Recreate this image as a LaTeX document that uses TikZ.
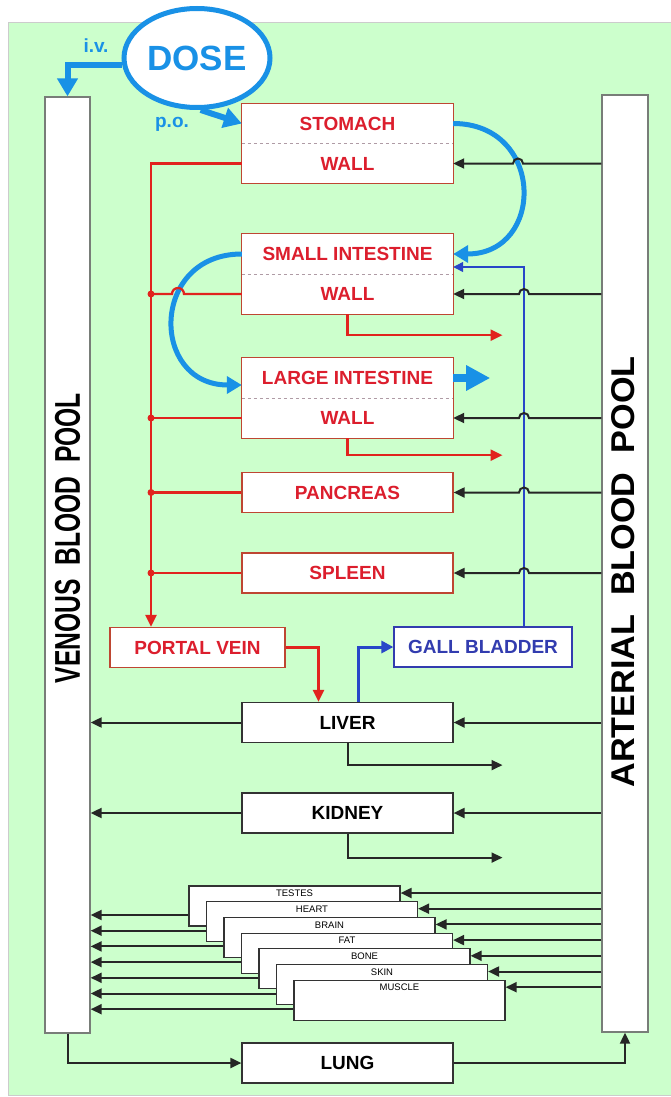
\documentclass[tikz,border=0pt]{standalone}
\usepackage{fontspec}
\setmainfont{Liberation Sans}
\usepackage{graphicx}
\usetikzlibrary{shapes.geometric, arrows.meta, calc}

\definecolor{bggreen}{RGB}{204,255,204}
\definecolor{boxred}{RGB}{190,70,50}
\definecolor{textred}{RGB}{220,30,45}
\definecolor{linered}{RGB}{225,35,30}
\definecolor{doseblue}{RGB}{25,145,230}
\definecolor{gbblue}{RGB}{50,60,175}
\definecolor{bileblue}{RGB}{40,70,200}
\definecolor{sepgray}{RGB}{175,155,165}
\definecolor{poolgray}{RGB}{120,125,120}

\begin{document}
\begin{tikzpicture}[x=1pt, y=-1pt,
    pool/.style={draw=poolgray, line width=1.3pt, fill=white, minimum width=45pt, minimum height=936pt, inner sep=0pt},
    poollbl/.style={rotate=90, inner sep=0pt, font=\bfseries},
    organ/.style={fill=white, minimum width=211pt, minimum height=40pt, inner sep=0pt, font=\fontsize{19}{22}\selectfont\bfseries},
    half/.style={organ, text=textred},
    redbox/.style={organ, draw=boxred, line width=1.2pt, text=textred},
    blackbox/.style={organ, draw=black!80, line width=1.2pt},
    tissue/.style={fill=white, draw=black!80, line width=1.2pt, minimum width=211pt, minimum height=40pt, inner sep=0pt},
    tissuelbl/.style={inner sep=0pt, font=\fontsize{9.5}{10}\selectfont},
    sepline/.style={draw=sepgray, dashed, line width=0.9pt},
    art/.style={draw=black!85, line width=2pt, -{Triangle[length=11pt,width=10pt]}},
    redline/.style={draw=linered, line width=2.3pt},
    redtip/.style={-{Triangle[length=12pt,width=11pt]}},
    dose/.style={ellipse, draw=doseblue, line width=5pt, fill=white, minimum width=146pt, minimum height=99pt, inner sep=0pt, text=doseblue, font=\fontsize{35}{40}\selectfont\bfseries},
    doselbl/.style={inner sep=0pt, text=doseblue, font=\fontsize{19}{22}\selectfont\bfseries},
    dosearrow/.style={draw=doseblue, line width=6pt, -{Triangle[length=18pt,width=20pt]}},
    gut/.style={draw=doseblue, line width=5pt, -{Triangle[length=15pt,width=17pt]}}
]
\useasboundingbox (0,0) rectangle (671,1097);

% ---- background ----
\fill[bggreen, draw=gray!40] (8,22) rectangle (673,1095);

% ---- blood pools ----
\node[pool] (venous) at (67.5,565) {};
\node[pool, minimum width=46pt, minimum height=937pt] (arterial) at (625,563.5) {};
\node[poollbl] (venlbl) at (67.5,538) {\resizebox{290pt}{25pt}{VENOUS\ \ BLOOD\ \ POOL}};
\node[poollbl] (artlbl) at (623.5,572) {\resizebox{431pt}{23pt}{ARTERIAL\ \ BLOOD\ \ POOL}};

% ---- gut compartments ----
\node[half] (stom) at (347.5,123.5) {STOMACH};
\node[half] (stwall) at (347.5,163.5) {WALL};
\node[half] (si) at (347.5,254) {SMALL INTESTINE};
\node[half] (siw) at (347.5,294) {WALL};
\node[half] (li) at (347.5,378) {LARGE INTESTINE};
\node[half] (liw) at (347.5,418) {WALL};
\foreach \a/\b in {stom/stwall, si/siw, li/liw} {
    \draw[boxred, line width=1.2pt] (\a.north west) rectangle (\b.south east);
    \draw[sepline] (\a.south west) -- (\a.south east);
}
\node[redbox] (pan) at (347.5,492.5) {PANCREAS};
\node[redbox] (spl) at (347.5,573) {SPLEEN};
\node[redbox, minimum width=175pt] (pv) at (197.5,647.5) {PORTAL VEIN};
\node[redbox, minimum width=178pt, draw=gbblue, text=gbblue] (gb) at (483,647) {GALL BLADDER};

% ---- other organs ----
\node[blackbox] (liver) at (347.5,722.5) {LIVER};
\node[blackbox] (kidney) at (347.5,813) {KIDNEY};
\node[blackbox] (lung) at (347.5,1063) {LUNG};

\coordinate (trunk) at (151,0);
\coordinate (bile) at ($(gb.north)+(41,0)$);
\coordinate (guthop) at (518,0);
\coordinate (loophop) at (178,0);

% ---- lumen transit ----
\draw[gut] (stom.east) .. controls ($(stom.east)+(92,0)$) and ($(si.east)+(92,0)$) .. (si.east);
\draw[gut] (si.west) .. controls ($(si.west)+(-92,0)$) and ($(li.west)+(-92,7)$) .. ($(li.west)+(0,7)$);
\draw[dosearrow, line width=8pt, -{Triangle[length=24pt,width=24pt]}] (li.east) -- ++(37,0);

% ---- portal drainage ----
\draw[redline, redtip] (stwall.west) -| (pv.north -| trunk);
\draw[redline] (siw.west) -- ($(loophop |- siw.west)+(6,0)$) arc[start angle=0, end angle=-180, radius=6] -- (trunk |- siw.west);
\fill[linered] (trunk |- siw.west) circle[radius=3.5];
\foreach \b in {liw, pan, spl} {
    \draw[redline] (\b.west) -- (trunk |- \b.west);
    \fill[linered] (trunk |- \b.west) circle[radius=3.5];
}
\draw[redline, redtip] (pv.east) -| ($(liver.north)+(-29,0)$);
\draw[redline, redtip] (siw.south) |- ++(155,21);
\draw[redline, redtip] (liw.south) |- ++(155,17);

% ---- bile ----
\draw[draw=bileblue, line width=3pt, -{Triangle[length=12pt,width=12pt]}] ($(liver.north)+(11,0)$) |- (gb.west);
\draw[draw=bileblue, line width=1.2pt, -{Triangle[length=10pt,width=10pt]}] (bile) |- ($(si.east)+(0,13)$);

% ---- arterial supply ----
\draw[art] (arterial.west |- stwall.east) -- ($(guthop |- stwall.east)+(5,0)$) arc[start angle=0, end angle=-180, radius=5] -- (stwall.east);
\foreach \b in {siw, liw, pan, spl}
    \draw[art] (arterial.west |- \b.east) -- ($(bile |- \b.east)+(5,0)$) arc[start angle=0, end angle=-180, radius=5] -- (\b.east);
\foreach \b in {liver, kidney} {
    \draw[art] (arterial.west |- \b.east) -- (\b.east);
    \draw[art] (\b.west) -- (venous.east |- \b.west);
}
\draw[art] (liver.south) |- ++(155,22);
\draw[art] (kidney.south) |- ++(155,24);

% ---- remaining tissues ----
\foreach \nm [count=\i from 0] in {TESTES, HEART, BRAIN, FAT, BONE, SKIN, MUSCLE} {
    \node[tissue] (t\i) at ({294.5+17.5*\i},{906+15.7*\i}) {};
    \node[tissuelbl] (tl\i) at ($(t\i.north)+(0,8)$) {\nm};
    \draw[art] ($(t\i.west)+(0,9)$) -- ($(venous.east |- t\i.west)+(0,9)$);
    \draw[art] ($(arterial.west |- t\i.east)+(0,-13)$) -- ($(t\i.east)+(0,-13)$);
}

% ---- lung ----
\draw[art] (venous.south) |- (lung.west);
\draw[art] (lung.east) -| (arterial.south);

% ---- dose ----
\node[dose] (dose) at (197,58) {DOSE};
\draw[dosearrow] (dose.185) -| (venous.north);
\draw[dosearrow] (dose.-86) -- (stom.west);
\node[doselbl] (iv) at (96,46) {i.v.};
\node[doselbl] (po) at (172,124) {p.o.};

\end{tikzpicture}
\end{document}
